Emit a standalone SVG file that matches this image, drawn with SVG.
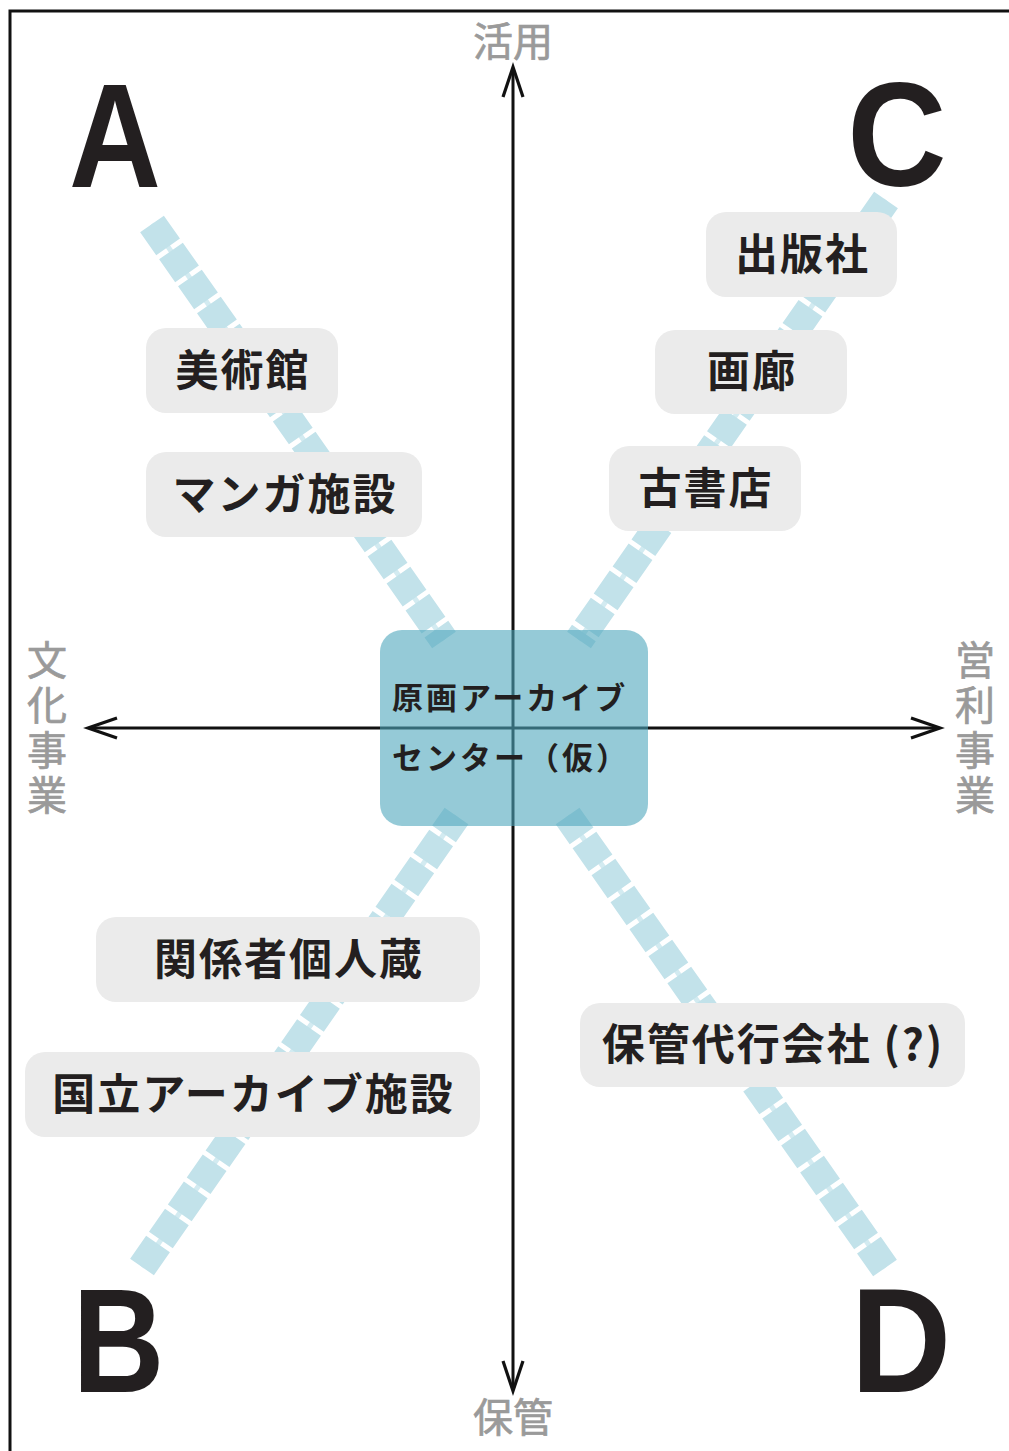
<svg xmlns="http://www.w3.org/2000/svg" width="1009" height="1451" viewBox="0 0 1009 1451">
<style>
.lbl{font-family:"Noto Sans CJK JP","Noto Sans",sans-serif;font-weight:700;font-size:43px;letter-spacing:2px;fill:#231f20;text-anchor:middle}
.pill{fill:#ebebeb}
.ax{font-family:"Noto Sans CJK JP","Noto Sans",sans-serif;font-size:40px;fill:#9a9a9a;stroke:#9a9a9a;stroke-width:0.7;text-anchor:middle}
.vax{font-family:"Noto Sans CJK JP","Noto Sans",sans-serif;font-size:40px;fill:#9a9a9a;stroke:#9a9a9a;stroke-width:0.7;writing-mode:vertical-rl;letter-spacing:5px}
.big{font-family:"Liberation Sans",Arial,sans-serif;font-weight:700;font-size:148px;fill:#231f20;text-anchor:middle}
.dash{stroke:#c2e2ea;stroke-width:29;stroke-dasharray:28 5;fill:none}
.core{stroke:#d3ebf1;stroke-width:5;fill:none}
.axis{stroke:#111;stroke-width:3;fill:none}
.head{stroke:#111;stroke-width:3.2;fill:none;stroke-linejoin:miter}
</style>
<rect x="0" y="0" width="1009" height="1451" fill="#fff"/>
<rect x="10" y="11" width="1100" height="1500" fill="none" stroke="#111" stroke-width="3"/>

<g id="connectors">
  <g id="diag-lines">
    <path class="core" d="M152 224 L444 640 M567.6 816 L885 1268 M886 200 L579 640 M456.5 816 L142 1267"/>
    <path class="dash" d="M152 224 L444 640"/>
    <path class="dash" d="M885 1268 L567.6 816"/>
    <path class="dash" d="M886 200 L579 640"/>
    <path class="dash" d="M142 1267 L456.5 816"/>
  </g>
  <g id="axes">
    <line class="axis" x1="513" y1="68" x2="513" y2="1390"/>
    <line class="axis" x1="89" y1="728" x2="939" y2="728"/>
    <polyline class="head" points="503,97 513,67 523,97"/>
    <polyline class="head" points="503,1361 513,1391 523,1361"/>
    <polyline class="head" points="117,718 88,728 117,738"/>
    <polyline class="head" points="911,718 940,728 911,738"/>
  </g>
</g>

<g id="center-node">
  <rect x="380" y="630" width="268" height="196" rx="22" fill="#4fa6bd" fill-opacity="0.6"/>
  <text x="392" y="709" font-family="Noto Sans CJK JP,sans-serif" font-weight="700" font-size="31" letter-spacing="3" fill="#231f20">原画アーカイブ</text>
  <text x="392" y="769" font-family="Noto Sans CJK JP,sans-serif" font-weight="700" font-size="31" letter-spacing="3" fill="#231f20">センター（仮）</text>
</g>

<g id="node-bijutsukan"><rect class="pill" x="146" y="328" width="192" height="85" rx="20"/><text class="lbl" x="243" y="386">美術館</text></g>
<g id="node-manga"><rect class="pill" x="146" y="452" width="276" height="85" rx="20"/><text class="lbl" x="285" y="510">マンガ施設</text></g>
<g id="node-shuppansha"><rect class="pill" x="706" y="212" width="191" height="85" rx="20"/><text class="lbl" x="802.5" y="270">出版社</text></g>
<g id="node-garou"><rect class="pill" x="655" y="330" width="192" height="84" rx="20"/><text class="lbl" x="752" y="387">画廊</text></g>
<g id="node-koshoten"><rect class="pill" x="609" y="446" width="192" height="85" rx="20"/><text class="lbl" x="706" y="504">古書店</text></g>
<g id="node-kankeisha"><rect class="pill" x="96" y="917" width="384" height="85" rx="20"/><text class="lbl" x="289" y="975">関係者個人蔵</text></g>
<g id="node-kokuritsu"><rect class="pill" x="25" y="1052" width="455" height="85" rx="20"/><text class="lbl" x="253.5" y="1110">国立アーカイブ施設</text></g>
<g id="node-hokan"><rect class="pill" x="580" y="1003" width="385" height="84" rx="20"/><text class="lbl" x="773" y="1060">保管代行会社 (?)</text></g>

<g id="axis-labels">
  <text class="ax" x="513" y="56">活用</text>
  <text class="ax" x="513" y="1432">保管</text>
  <text class="vax" x="47" y="640">文化事業</text>
  <text class="vax" x="975" y="640">営利事業</text>
</g>

<g id="quadrant-letters">
  <text class="big" transform="translate(115 187) scale(0.86 1)">A</text>
  <text class="big" transform="translate(118.5 1392) scale(0.86 1)">B</text>
  <text class="big" transform="translate(897 186) scale(0.93 1)">C</text>
  <text class="big" transform="translate(901 1392) scale(0.94 1)">D</text>
</g>
</svg>
